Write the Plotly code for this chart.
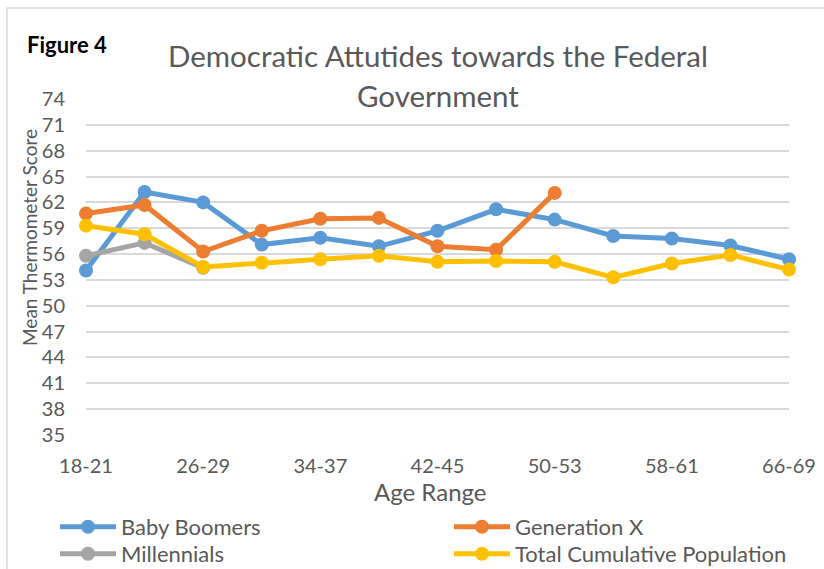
import plotly.graph_objects as go

age_ranges = ["18-21", "22-25", "26-29", "30-33", "34-37", "38-41", "42-45",
              "46-49", "50-53", "54-57", "58-61", "62-65", "66-69"]
baby_boomers = [54.1, 63.2, 62.0, 57.1, 57.9, 56.9, 58.7, 61.2, 60.0, 58.1, 57.8, 57.0, 55.4]
generation_x = [60.7, 61.7, 56.3, 58.7, 60.1, 60.2, 56.9, 56.5, 63.1]
millennials = [55.8, 57.3, 54.4]
total_population = [59.3, 58.3, 54.5, 55.0, 55.4, 55.8, 55.1, 55.2, 55.1, 53.3, 54.9, 55.9, 54.2]
y_ticks = list(range(35, 75, 3))

FONT = "Lato"
GREY_TXT = "#595959"

# plot area in pixels (for placing text in paper coordinates)
PL, PR, PT, PB = 86, 789, 99, 435
PW, PH = PR - PL, PB - PT


def px_x(x):
    return (x - PL) / PW


def px_y(y):
    return (PB - y) / PH


series = [
    ("Baby Boomers", baby_boomers, "#5B9BD5", "legend"),
    ("Generation X", generation_x, "#ED7D31", "legend"),
    ("Millennials", millennials, "#A5A5A5", "legend2"),
    ("Total Cumulative Population", total_population, "#FFC000", "legend2"),
]

fig = go.Figure()
for name, vals, color, leg in series:
    fig.add_trace(go.Scatter(
        x=age_ranges[:len(vals)], y=vals, name=name, mode="lines+markers",
        line=dict(color=color, width=5),
        marker=dict(color=color, size=14),
        cliponaxis=False, legend=leg,
    ))

legend_common = dict(
    orientation="h", xanchor="left", yanchor="top",
    itemwidth=56, entrywidth=323, font=dict(size=22, color=GREY_TXT, family=FONT),
    itemclick=False, bgcolor="rgba(0,0,0,0)",
)

fig.update_layout(
    width=824, height=569,
    margin=dict(l=PL, r=824 - PR, t=PT, b=569 - PB, autoexpand=False),
    paper_bgcolor="white", plot_bgcolor="white",
    font=dict(family=FONT, color=GREY_TXT, size=20),
    showlegend=True,
    legend=dict(x=px_x(55), y=px_y(506), **legend_common),
    legend2=dict(x=px_x(55), y=px_y(533), **legend_common),
    xaxis=dict(
        type="category", categoryorder="array", categoryarray=age_ranges,
        range=[0, len(age_ranges) - 1],
        tickmode="array", tickvals=age_ranges[::2], ticktext=age_ranges[::2],
        showgrid=False, zeroline=False, showline=False,
        ticks="", ticklabelstandoff=17, automargin=False,
        tickfont=dict(size=20, color=GREY_TXT),
    ),
    yaxis=dict(
        range=[35, 74], tickmode="array", tickvals=y_ticks,
        showgrid=True, gridcolor="#D9D9D9", gridwidth=1.5,
        zeroline=False, showline=False, ticks="", ticklabelstandoff=20,
        automargin=False,
        tickfont=dict(size=20, color=GREY_TXT),
    ),
    annotations=[
        dict(text="Democratic Attutides towards the Federal", xref="paper", yref="paper",
             x=px_x(438), y=px_y(55), xanchor="center", yanchor="middle",
             showarrow=False, font=dict(size=29.5, color=GREY_TXT, family=FONT)),
        dict(text="Government", xref="paper", yref="paper",
             x=px_x(438), y=px_y(95), xanchor="center", yanchor="middle",
             showarrow=False, font=dict(size=29.5, color=GREY_TXT, family=FONT)),
        dict(text="<b>Figure 4</b>", xref="paper", yref="paper",
             x=px_x(25), y=px_y(45), xanchor="left", yanchor="middle",
             showarrow=False, font=dict(size=22, color="black", family=FONT)),
        dict(text="Mean Thermometer Score", xref="paper", yref="paper",
             x=px_x(29), y=px_y(238), xanchor="center", yanchor="middle", textangle=-90,
             showarrow=False, font=dict(size=19, color=GREY_TXT, family=FONT)),
        dict(text="Age Range", xref="paper", yref="paper",
             x=px_x(430), y=px_y(491), xanchor="center", yanchor="middle",
             showarrow=False, font=dict(size=24, color=GREY_TXT, family=FONT)),
    ],
    shapes=[
        dict(type="rect", xref="paper", yref="paper",
             x0=px_x(7), x1=1.2, y0=-1.0, y1=px_y(8),
             line=dict(color="#D9D9D9", width=1.5), fillcolor="rgba(0,0,0,0)", layer="below"),
    ],
)

fig.write_html("out.html", config={"displayModeBar": False},
               post_script="document.body.style.margin='0px';")
